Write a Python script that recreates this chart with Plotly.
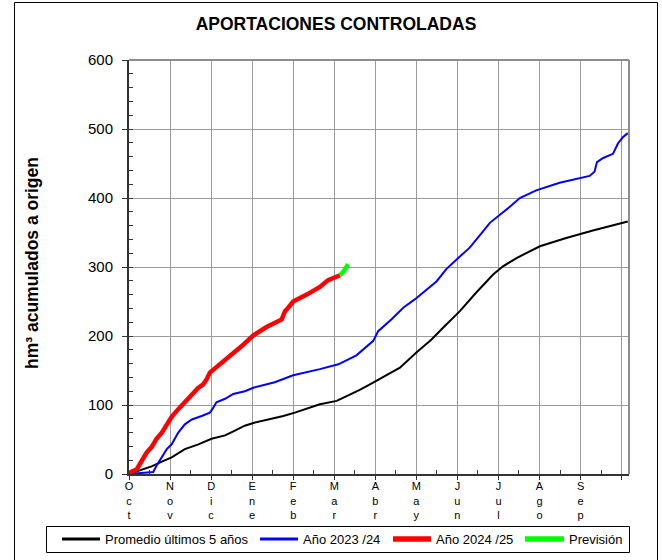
import plotly.graph_objects as go

# ---- data (x in months since 1 Oct) ----
month_labels = ["Oct", "Nov", "Dic", "Ene", "Feb", "Mar", "Abr", "May", "Jun", "Jul", "Ago", "Sep"]

prom_x = [0, 0.23, 0.55, 0.80, 1.04, 1.36, 1.69, 2.01, 2.34, 2.58, 2.70, 2.82, 3.03, 3.40, 3.76, 4.04,
          4.35, 4.65, 5.06, 5.38, 5.62, 5.87, 6.19, 6.60, 7.00, 7.37, 7.65, 8.06, 8.46, 8.87, 9.11,
          9.44, 10.01, 10.65, 11.30, 11.79, 12.15]
prom_y = [0, 5, 11, 18, 24, 36, 43, 51, 56, 63, 67, 70, 74, 79, 84, 89,
          95, 101, 106, 115, 122, 130, 140, 154, 176, 195, 212, 236, 263, 289, 301,
          313, 330, 342, 353, 360, 366]

a2324_x = [0, 0.59, 0.67, 0.80, 0.92, 1.04, 1.20, 1.36, 1.53, 1.77, 1.97, 2.03, 2.13, 2.34, 2.54,
           2.82, 3.03, 3.55, 4.00, 4.65, 5.10, 5.54, 5.62, 5.87, 5.95, 6.07, 6.39, 6.68, 6.96,
           7.49, 7.73, 7.98, 8.30, 8.59, 8.79, 9.27, 9.52, 9.92, 10.49, 11.22, 11.34, 11.40,
           11.55, 11.79, 11.91, 12.03, 12.15]
a2324_y = [0, 3, 12, 24, 36, 43, 60, 72, 79, 84, 89, 94, 104, 109, 116,
           120, 125, 133, 143, 152, 159, 172, 176, 188, 193, 207, 224, 241, 253,
           279, 297, 311, 328, 349, 364, 387, 400, 411, 422, 432, 438, 452,
           458, 464, 479, 488, 494]

a2425_x = [0, 0.02, 0.19, 0.31, 0.43, 0.55, 0.67, 0.80, 0.92, 1.04, 1.20, 1.36, 1.53, 1.69, 1.81,
           1.89, 1.97, 2.22, 2.46, 2.74, 3.03, 3.35, 3.72, 3.80, 3.88, 4.00, 4.33, 4.65, 4.85, 5.14]
a2425_y = [0, 2, 7, 19, 31, 39, 51, 60, 72, 83, 94, 104, 116, 125, 130,
           137, 147, 159, 172, 185, 201, 213, 224, 236, 241, 250, 260, 271, 281, 288]

prev_x = [5.14, 5.23, 5.34]
prev_y = [288, 294, 304]

series_names = ["Promedio últimos 5 años", "Año 2023 /24", "Año 2024 /25", "Previsión"]
series_colors = ["black", "#0000ff", "#ff0000", "#00ff00"]
series_widths = [2, 2, 4.5, 4.5]

FONT = "Liberation Sans, Arial, sans-serif"

# plot-area geometry (pixels) used to place decorations in paper coordinates
L, R, T, B = 129, 629, 60, 474
def px(x):
    return (x - L) / (R - L)
def py(y):
    return (B - y) / (B - T)

fig = go.Figure()
for xs, ys, nm, c, w in zip([prom_x, a2324_x, a2425_x, prev_x], [prom_y, a2324_y, a2425_y, prev_y],
                            series_names, series_colors, series_widths):
    fig.add_trace(go.Scatter(x=xs, y=ys, mode="lines", name=nm, showlegend=False,
                             line=dict(color=c, width=w)))

ticktext = ["<br>".join(list(m)) for m in month_labels] + [""]

fig.update_xaxes(
    range=[0, 12.18], tickmode="array", tickvals=list(range(13)), ticktext=ticktext,
    tickangle=0, tickfont=dict(size=11, color="black", family=FONT),
    ticks="outside", ticklen=4, tickcolor="#333", tickwidth=1, ticklabelstandoff=-3,
    showline=True, linecolor="#333", linewidth=2,
    showgrid=True, gridcolor="#9a9a9a", gridwidth=1, zeroline=False,
    minor=dict(tickmode="array", tickvals=[i + 0.5 for i in range(12)],
               ticks="inside", ticklen=4, tickcolor="#333", showgrid=False),
    automargin=False, fixedrange=True,
)
fig.update_yaxes(
    range=[0, 600], tickmode="linear", tick0=0, dtick=100,
    tickfont=dict(size=15, color="black", family=FONT),
    ticks="outside", ticklen=5, tickcolor="#333", tickwidth=1, ticklabelstandoff=6,
    showline=True, linecolor="#333", linewidth=2,
    showgrid=True, gridcolor="#9a9a9a", gridwidth=1, zeroline=False,
    minor=dict(dtick=20, ticks="inside", ticklen=4, tickcolor="#333", showgrid=False),
    automargin=False, fixedrange=True,
)

# manual legend (box, line samples, labels)
leg_line_x = [(62, 100), (260, 298), (393, 431), (525, 564)]
leg_text_x = [103, 301, 434, 567]
leg_y = 539
shapes = [
    dict(type="line", xref="paper", yref="paper", x0=0, x1=1, y0=1, y1=1,
         line=dict(color="#8c8c8c", width=2), layer="above"),
    dict(type="line", xref="paper", yref="paper", x0=1, x1=1, y0=0, y1=1,
         line=dict(color="#8c8c8c", width=2), layer="above"),
    dict(type="rect", xref="paper", yref="paper",
         x0=px(14.5), x1=px(657.5), y0=py(575), y1=py(2.5),
         line=dict(color="black", width=1), layer="below"),
    dict(type="rect", xref="paper", yref="paper",
         x0=px(46.5), x1=px(629.5), y0=py(552.5), y1=py(526.5),
         line=dict(color="black", width=1), fillcolor="white", layer="below"),
]
annotations = [dict(text="<b>hm³ acumulados a origen</b>", textangle=-90,
                    xref="paper", yref="paper", x=px(32), y=py(263),
                    xanchor="center", yanchor="middle", showarrow=False,
                    font=dict(size=17.5, family=FONT, color="black"))]
for (x0, x1), tx, nm, c, w in zip(leg_line_x, leg_text_x, series_names, series_colors, series_widths):
    shapes.append(dict(type="line", xref="paper", yref="paper", x0=px(x0), x1=px(x1),
                       y0=py(leg_y), y1=py(leg_y), line=dict(color=c, width=w + 1)))
    annotations.append(dict(text=nm, xref="paper", yref="paper", x=px(tx), y=py(leg_y),
                            xanchor="left", yanchor="middle", showarrow=False,
                            font=dict(size=13, family=FONT, color="black")))

fig.update_layout(
    template="none",
    width=662, height=560,
    margin=dict(l=L, r=662 - R, t=T, b=560 - B, autoexpand=False),
    paper_bgcolor="white", plot_bgcolor="white",
    font=dict(family=FONT, color="black"),
    title=dict(text="<b>APORTACIONES CONTROLADAS</b>", font=dict(size=17.5, family=FONT, color="black"),
               xref="container", x=336 / 662, xanchor="center",
               yref="container", y=1 - 24 / 560, yanchor="middle"),
    showlegend=False,
    annotations=annotations,
    shapes=shapes,
)

fig.write_html("out.html", config={"displayModeBar": False},
               post_script="document.body.style.margin='0';document.body.style.overflow='hidden';")
